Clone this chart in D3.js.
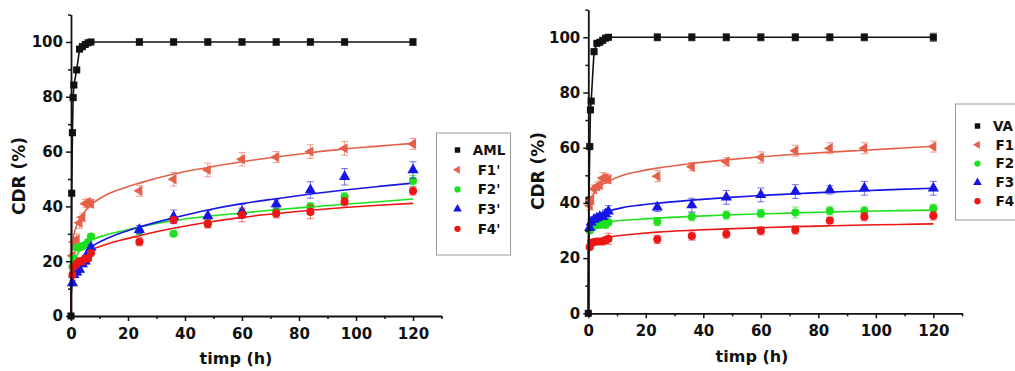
<!DOCTYPE html>
<html>
<head>
<meta charset="utf-8">
<script src="https://cdn.jsdelivr.net/npm/d3@7"></script>
<style>
  html, body { margin: 0; padding: 0; background: #fff; overflow: hidden; }
  svg { display: block; }
  text { font-family: "DejaVu Sans", sans-serif; font-weight: bold; fill: #111; }
</style>
</head>
<body>
<svg id="chart" width="1015" height="371"></svg>
<script>
// ---------------- DATA ----------------
const refTimes = [0, 0.25, 0.5, 0.75, 1, 2, 3, 4, 5, 6, 7, 24, 36, 48, 60, 72, 84, 96, 120];
const fTimes = [0.5, 1, 2, 3, 4, 5, 6, 7, 24, 36, 48, 60, 72, 84, 96, 120];
const fitTimes = [0, 0.05, 0.2, 0.5, 1, 2, 4, 7, 12, 18, 24, 36, 48, 60, 72, 84, 96, 108, 120];
const xTicks = [0, 20, 40, 60, 80, 100, 120];
const yTicks = [0, 20, 40, 60, 80, 100];
const xTitle = "timp (h)";
const yTitle = "CDR (%)";

// Left panel
const leftNames = ["AML", "F1'", "F2'", "F3'", "F4'"];
const amlValues = [0, 44.8, 66.9, 79.7, 84.3, 89.8, 97.4, 98.3, 99.1, 99.7, 100, 100, 100, 100, 100, 100, 100, 100, 100];
const amlErr    = [0, 0.5, 0.5, 0.5, 0.5, 0.5, 0.5, 0.5, 0.5, 0.5, 0.5, 1.2, 1.2, 1.2, 1.2, 1.2, 1.2, 1.2, 1.3];
const f1LValues = [22, 27, 28, 34, 36, 41, 41.5, 41, 45.7, 49.9, 53.3, 57.2, 58, 60, 61.2, 62.8];
const f1LErr    = [1, 1.5, 2, 2, 1.5, 1.5, 1.5, 1.5, 2, 2.5, 2.5, 2.5, 2, 2.5, 2.5, 2];
const f2LValues = [18, 21, 25, 25, 25.5, 26, 27, 29, 31, 30, 33.8, 37.7, 38, 39.9, 43.5, 49.3];
const f2LErr    = [0.8, 0.8, 0.8, 0.8, 0.8, 0.8, 0.8, 1, 1, 1, 1.5, 1.5, 1.5, 1.5, 1.5, 2];
const f3LValues = [12, 15, 16, 17, 19, 20, 23, 25, 31.5, 36.2, 36.5, 38.1, 40.9, 46, 50.8, 53.3];
const f3LErr    = [1, 1, 1, 1, 1, 1, 1, 1, 1.5, 2.5, 2, 2.5, 1.5, 3, 3, 3];
const f4LValues = [15, 18, 19, 20, 20, 21, 21, 23, 27.1, 35, 33.6, 36.9, 37.3, 38, 41.7, 45.6];
const f4LErr    = [1, 1, 1, 1, 1, 1, 1, 1, 1.5, 1, 1.5, 2.5, 1.5, 2.5, 1.5, 1.5];
const f1LFit = [0, 17, 22, 26, 29.5, 33, 37, 40.5, 44, 46.5, 48.5, 51.8, 54.2, 56.3, 58, 59.6, 61, 62, 63];
const f2LFit = [0, 11, 14, 17, 19, 22, 25, 27.5, 29.5, 31, 32.5, 34.8, 36.4, 37.6, 38.8, 39.8, 40.8, 41.7, 42.7];
const f3LFit = [0, 7, 10, 13, 15, 18, 21.5, 25, 28, 30.5, 32.5, 35.8, 38.7, 41, 42.8, 44.5, 46, 47.3, 48.5];
const f4LFit = [0, 8, 11, 14, 16, 18.5, 21.5, 24, 26, 27.8, 29.3, 32, 34.2, 36, 37.4, 38.6, 39.6, 40.4, 41.1];

// Right panel (legend labels are cut by the page edge in the reference: visible part only)
const rightNames = ["VA", "F1", "F2", "F3", "F4"];
const valValues = [0, 41, 60.4, 73.7, 76.9, 94.8, 97.8, 98.2, 98.9, 99.7, 100, 100, 100, 100, 100, 100, 100, 100, 100];
const valErr    = [0, 0.5, 0.5, 0.5, 0.5, 0.5, 0.5, 0.5, 0.5, 0.5, 0.5, 1.3, 1.3, 1.3, 1.3, 1.3, 1.3, 1.3, 1.5];
const f1RValues = [39, 41, 45, 46, 46.5, 49, 49, 48.5, 49.7, 53.1, 54.9, 56.5, 58.9, 59.8, 59.8, 60.4];
const f1RErr    = [1.5, 1.5, 1.5, 1.5, 1.5, 2, 1.5, 1.5, 2, 1.5, 1.5, 2, 2, 2, 2, 2];
const f2RValues = [30, 31, 31.5, 32, 32, 32.5, 32, 33, 33.2, 35, 35.6, 36.2, 36.5, 37.1, 37.1, 38];
const f2RErr    = [0.8, 0.8, 0.8, 0.8, 0.8, 1, 1, 1, 1.5, 1.5, 1.5, 1.5, 2, 1.5, 1.5, 1.5];
const f3RValues = [31, 33, 34, 34.5, 35, 35, 36, 37, 38.4, 39.2, 42, 42.9, 44.1, 44.7, 45.3, 45.3];
const f3RErr    = [1, 1, 1, 1, 1, 1, 1.5, 2, 1.5, 2.5, 2.5, 2.5, 2.5, 1.5, 2.5, 2.5];
const f4RValues = [24, 25.5, 25.8, 26, 26, 26, 26.5, 27, 26.8, 28, 28.7, 29.9, 30.2, 33.6, 35, 35.3];
const f4RErr    = [0.8, 0.8, 0.8, 0.8, 0.8, 0.8, 1, 2, 1.5, 1.5, 1.5, 1.5, 1.5, 1.2, 1.5, 1.5];
const f1RFit = [0, 30, 36, 39, 41.5, 43.5, 46, 47.8, 50, 51.5, 52.6, 54.3, 55.6, 56.7, 57.6, 58.4, 59.1, 59.8, 60.5];
const f2RFit = [0, 25, 28.5, 30, 31, 31.8, 32.5, 33.1, 33.7, 34.1, 34.5, 35.1, 35.6, 36, 36.4, 36.7, 37, 37.2, 37.4];
const f3RFit = [0, 24, 29, 31.5, 33, 34.5, 35.8, 37, 38.3, 39.2, 39.9, 41, 41.9, 42.7, 43.3, 43.9, 44.4, 44.9, 45.3];
const f4RFit = [0, 20, 23, 24.5, 25.5, 26.3, 27, 27.6, 28.3, 28.9, 29.4, 30.1, 30.6, 31, 31.4, 31.7, 32, 32.2, 32.4];

// ---------------- STYLE ----------------
const colors = ["#111111", "#e4604a", "#1fe01f", "#1515e6", "#ee1515"];
const symbols = [d3.symbolSquare, d3.symbolTriangle, d3.symbolCircle, d3.symbolTriangle, d3.symbolCircle];
const symbolRot = [0, -90, 0, 0, 0];
const symbolSize = [50, 46, 52, 54, 52];

const svg = d3.select("#chart");

function drawPanel(p) {
  const x = d3.scaleLinear().domain([0, 130]).range([p.left, p.right]);
  const y = d3.scaleLinear().domain([0, 110]).range([p.bottom, p.top]);
  const g = svg.append("g");

  // Fit curves
  const fitLine = d3.line().x((d, i) => x(fitTimes[i])).y(d => y(d)).curve(d3.curveMonotoneX);
  p.fits.forEach((f, k) => {
    g.append("path").attr("d", fitLine(f)).attr("fill", "none")
      .attr("stroke", colors[k + 1]).attr("stroke-width", 1.6);
  });

  // Reference connecting line
  const refLine = d3.line().x((d, i) => x(refTimes[i])).y(d => y(d));
  g.append("path").attr("d", refLine(p.ref)).attr("fill", "none")
    .attr("stroke", colors[0]).attr("stroke-width", 1.6);

  // Series markers and error bars
  const series = [{t: refTimes, v: p.ref, e: p.refErr}].concat(
    p.fvals.map((v, k) => ({t: fTimes, v: v, e: p.ferrs[k]})));
  series.forEach((s, k) => {
    const eg = g.append("g").attr("stroke", colors[k]).attr("stroke-opacity", 0.6).attr("stroke-width", 1);
    s.v.forEach((v, i) => {
      const e = s.e[i];
      if (!e) return;
      const cx = x(s.t[i]);
      eg.append("line").attr("x1", cx).attr("x2", cx).attr("y1", y(v - e)).attr("y2", y(v + e));
      eg.append("line").attr("x1", cx - 3.5).attr("x2", cx + 3.5).attr("y1", y(v - e)).attr("y2", y(v - e));
      eg.append("line").attr("x1", cx - 3.5).attr("x2", cx + 3.5).attr("y1", y(v + e)).attr("y2", y(v + e));
    });
    const sym = d3.symbol().type(symbols[k]).size(symbolSize[k]);
    g.append("g").selectAll("path").data(s.v).join("path")
      .attr("d", sym)
      .attr("transform", (v, i) => `translate(${x(s.t[i])},${y(v)}) rotate(${symbolRot[k]})`)
      .attr("fill", colors[k]);
  });

  // Axes
  const xMinor = d3.range(10, 131, 20);
  const yMinor = d3.range(10, 111, 20);
  const xa = g.append("g").attr("transform", `translate(0,${p.bottom})`)
    .call(d3.axisBottom(x).tickValues(xTicks).tickSizeInner(5).tickSizeOuter(0).tickPadding(6).tickFormat(d3.format("d")));
  g.append("g").attr("transform", `translate(0,${p.bottom})`)
    .call(d3.axisBottom(x).tickValues(xMinor).tickSizeInner(3).tickSizeOuter(0).tickFormat(""))
    .call(a => a.select(".domain").remove());
  const ya = g.append("g").attr("transform", `translate(${p.left},0)`)
    .call(d3.axisLeft(y).tickValues(yTicks).tickSizeInner(5).tickSizeOuter(0).tickPadding(3).tickFormat(d3.format("d")));
  g.append("g").attr("transform", `translate(${p.left},0)`)
    .call(d3.axisLeft(y).tickValues(yMinor).tickSizeInner(3).tickSizeOuter(0).tickFormat(""))
    .call(a => a.select(".domain").remove());
  g.selectAll(".domain").attr("stroke", "#111").attr("stroke-width", 1.8);
  g.selectAll(".tick line").attr("stroke", "#111").attr("stroke-width", 1.5);
  xa.selectAll("text").attr("font-size", 15).attr("font-family", "DejaVu Sans").attr("font-weight", "bold").attr("fill", "#111").attr("dy", "0.78em");
  ya.selectAll("text").attr("font-size", 15).attr("font-family", "DejaVu Sans").attr("font-weight", "bold").attr("fill", "#111");

  // Titles
  svg.append("text").attr("x", p.xTitleX).attr("y", p.xTitleY).attr("text-anchor", "middle")
    .attr("font-size", 16).text(xTitle);
  svg.append("text").attr("transform", `translate(${p.yTitleX},${p.yTitleY}) rotate(-90)`)
    .attr("text-anchor", "middle").attr("dy", "0.36em").attr("font-size", 17).text(yTitle);

  // Legend
  const lg = svg.append("g");
  lg.append("rect").attr("x", p.legX).attr("y", p.legY).attr("width", p.legW).attr("height", p.legH)
    .attr("fill", "#fff").attr("stroke", "#9a9a9a").attr("stroke-width", 1);
  p.names.forEach((n, k) => {
    const ly = p.legY + p.legRow0 + k * p.legStep;
    lg.append("path").attr("d", d3.symbol().type(symbols[k]).size(symbolSize[k] * 0.6))
      .attr("transform", `translate(${p.legX + p.legSymDx},${ly}) rotate(${symbolRot[k]})`)
      .attr("fill", colors[k]);
    lg.append("text").attr("x", p.legX + p.legTextDx + (k === 0 ? 0 : p.legTextShift)).attr("y", ly).attr("dy", "0.36em")
      .attr("text-anchor", p.legAnchor).attr("font-size", 13.5).text(n);
  });
}

drawPanel({
  left: 71, right: 441.5, bottom: 316, top: 14.6,
  ref: amlValues, refErr: amlErr,
  fvals: [f1LValues, f2LValues, f3LValues, f4LValues],
  ferrs: [f1LErr, f2LErr, f3LErr, f4LErr],
  fits: [f1LFit, f2LFit, f3LFit, f4LFit],
  names: leftNames,
  xTitleX: 236, xTitleY: 364, yTitleX: 19, yTitleY: 176,
  legX: 436.5, legY: 133, legW: 74, legH: 122, legRow0: 17, legStep: 19.7, legSymDx: 21, legTextDx: 52.5,
  legAnchor: "middle", legTextShift: 0
});

drawPanel({
  left: 588.3, right: 962.1, bottom: 313.3, top: 9.7,
  ref: valValues, refErr: valErr,
  fvals: [f1RValues, f2RValues, f3RValues, f4RValues],
  ferrs: [f1RErr, f2RErr, f3RErr, f4RErr],
  fits: [f1RFit, f2RFit, f3RFit, f4RFit],
  names: rightNames,
  xTitleX: 752, xTitleY: 362, yTitleX: 538, yTitleY: 171,
  legX: 955.5, legY: 104, legW: 80, legH: 116, legRow0: 22, legStep: 18.8, legSymDx: 22, legTextDx: 37.5,
  legAnchor: "start", legTextShift: 2.5
});
</script>
</body>
</html>
